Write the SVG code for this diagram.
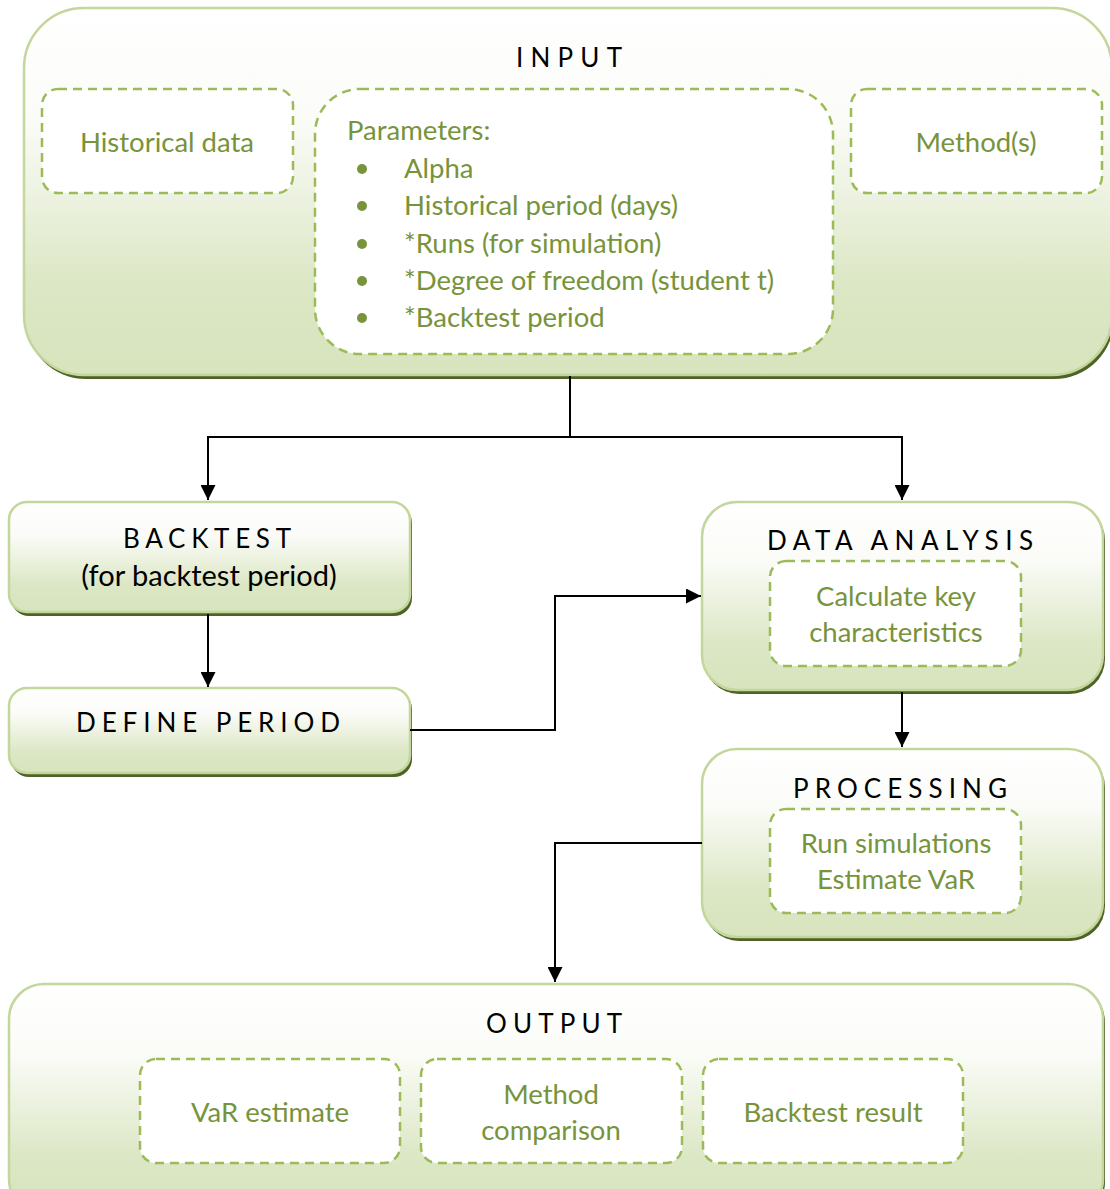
<svg xmlns="http://www.w3.org/2000/svg" width="1110" height="1189" viewBox="0 0 1110 1189">
  <defs>
    <linearGradient id="boxFill" x1="0" y1="0" x2="0" y2="1">
      <stop offset="0" stop-color="#ffffff"/>
      <stop offset="0.3" stop-color="#fbfcf8"/>
      <stop offset="0.75" stop-color="#dce7c5"/>
      <stop offset="1" stop-color="#d7e4bd"/>
    </linearGradient>
    <marker id="arrow" viewBox="0 0 10 10" refX="10" refY="5" markerWidth="7.5" markerHeight="7.5" markerUnits="strokeWidth" orient="auto">
      <path d="M0,0 L10,5 L0,10 Z" fill="#000"/>
    </marker>
    <style>
      .shadow { fill: #4f6228; }
      .box { fill: url(#boxFill); stroke: #c3d69b; stroke-width: 2.5; }
      .inner { fill: #ffffff; stroke: #9bbb59; stroke-width: 2.5; stroke-dasharray: 9 6; }
      .title { font-family: "Lato", "Liberation Sans", sans-serif; font-size: 26px; fill: #000; }
      .label { font-family: "Lato", "Liberation Sans", sans-serif; font-size: 29px; fill: #000; text-anchor: middle; }
      .green { font-family: "Lato", "Liberation Sans", sans-serif; font-size: 27.5px; fill: #77933c; }
      .mid { text-anchor: middle; }
      .bullet { fill: #77933c; }
      .conn { fill: none; stroke: #000; stroke-width: 2; }
    </style>
  </defs>

  <!-- INPUT -->
  <g id="input">
    <rect class="shadow" x="26" y="12" width="1088" height="367" rx="60"/>
    <rect class="box" x="24" y="8" width="1088" height="367" rx="60"/>
    <text class="title" x="516" y="67" textLength="106" lengthAdjust="spacing">INPUT</text>
    <rect class="inner" x="42" y="89" width="251" height="104" rx="16"/>
    <text class="green mid" x="167" y="152">Historical data</text>
    <rect class="inner" x="315" y="89" width="518" height="265" rx="45"/>
    <text class="green" x="347" y="140">Parameters:</text>
    <circle class="bullet" cx="362" cy="169" r="5"/>
    <circle class="bullet" cx="362" cy="206" r="5"/>
    <circle class="bullet" cx="362" cy="244" r="5"/>
    <circle class="bullet" cx="362" cy="281" r="5"/>
    <circle class="bullet" cx="362" cy="318" r="5"/>
    <text class="green" x="404" y="178">Alpha</text>
    <text class="green" x="404" y="215">Historical period (days)</text>
    <text class="green" x="404" y="253">*Runs (for simulation)</text>
    <text class="green" x="404" y="290">*Degree of freedom (student t)</text>
    <text class="green" x="404" y="327">*Backtest period</text>
    <rect class="inner" x="851" y="89" width="251" height="104" rx="16"/>
    <text class="green mid" x="976" y="152">Method(s)</text>
  </g>

  <!-- BACKTEST -->
  <g id="backtest">
    <rect class="shadow" x="11" y="505" width="401" height="111" rx="18"/>
    <rect class="box" x="9" y="502" width="401" height="110" rx="18"/>
    <text class="title" x="123" y="548" textLength="168" lengthAdjust="spacing">BACKTEST</text>
    <text class="label" x="209" y="586">(for backtest period)</text>
  </g>

  <!-- DEFINE PERIOD -->
  <g id="define-period">
    <rect class="shadow" x="11" y="691" width="401" height="86" rx="18"/>
    <rect class="box" x="9" y="688" width="401" height="85" rx="18"/>
    <text class="title" x="76" y="732" textLength="264" lengthAdjust="spacing">DEFINE PERIOD</text>
  </g>

  <!-- DATA ANALYSIS -->
  <g id="data-analysis">
    <rect class="shadow" x="704" y="505" width="401" height="189" rx="35"/>
    <rect class="box" x="702" y="502" width="401" height="188" rx="35"/>
    <text class="title" x="767" y="550" textLength="266" lengthAdjust="spacing">DATA ANALYSIS</text>
    <rect class="inner" x="770" y="561" width="251" height="105" rx="16"/>
    <text class="green mid" x="896" y="606">Calculate key</text>
    <text class="green mid" x="896" y="642">characteristics</text>
  </g>

  <!-- PROCESSING -->
  <g id="processing">
    <rect class="shadow" x="704" y="752" width="401" height="189" rx="35"/>
    <rect class="box" x="702" y="749" width="401" height="188" rx="35"/>
    <text class="title" x="793" y="798" textLength="214" lengthAdjust="spacing">PROCESSING</text>
    <rect class="inner" x="770" y="809" width="251" height="104" rx="16"/>
    <text class="green mid" x="896" y="853">Run simulations</text>
    <text class="green mid" x="896" y="889">Estimate VaR</text>
  </g>

  <!-- OUTPUT -->
  <g id="output">
    <rect class="shadow" x="11" y="987" width="1094" height="230" rx="35"/>
    <rect class="box" x="9" y="984" width="1094" height="230" rx="35"/>
    <text class="title" x="486" y="1033" textLength="136" lengthAdjust="spacing">OUTPUT</text>
    <rect class="inner" x="140" y="1059" width="260" height="104" rx="16"/>
    <text class="green mid" x="270" y="1122">VaR estimate</text>
    <rect class="inner" x="421" y="1059" width="261" height="104" rx="16"/>
    <text class="green mid" x="551" y="1104">Method</text>
    <text class="green mid" x="551" y="1140">comparison</text>
    <rect class="inner" x="703" y="1059" width="260" height="104" rx="16"/>
    <text class="green mid" x="833" y="1122">Backtest result</text>
  </g>

  <!-- connectors -->
  <g id="connectors">
    <path class="conn" d="M570,376 V437 H208 V500" marker-end="url(#arrow)"/>
    <path class="conn" d="M570,437 H902 V500" marker-end="url(#arrow)"/>
    <path class="conn" d="M208,614 V687" marker-end="url(#arrow)"/>
    <path class="conn" d="M410,730 H555 V596 H701" marker-end="url(#arrow)"/>
    <path class="conn" d="M902,692 V747" marker-end="url(#arrow)"/>
    <path class="conn" d="M702,843 H555 V982" marker-end="url(#arrow)"/>
  </g>
</svg>
